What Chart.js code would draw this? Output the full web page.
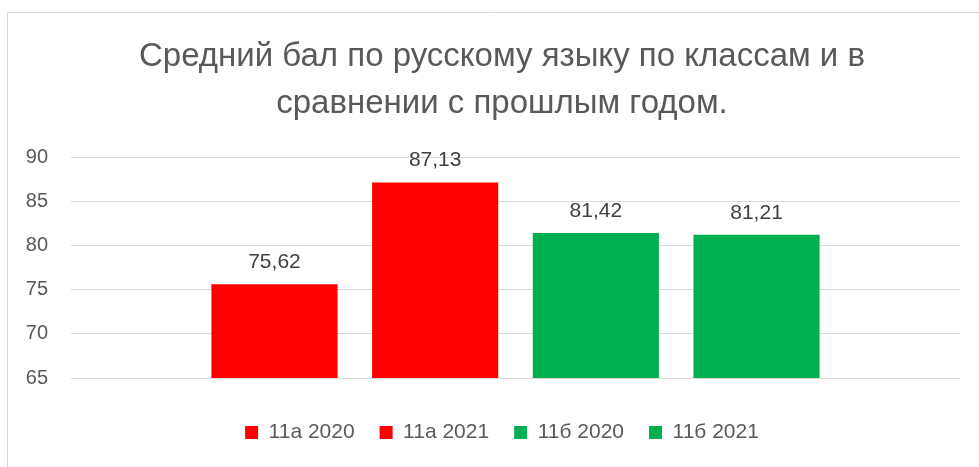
<!DOCTYPE html>
<html>
<head>
<meta charset="utf-8">
<script src="https://cdn.jsdelivr.net/npm/chart.js@4/dist/chart.umd.min.js"></script>
<style>
  html, body { margin: 0; padding: 0; background: #fff; }
  #wrap { position: absolute; left: 0; top: 0; width: 979px; height: 467px; }
</style>
</head>
<body>
<div id="wrap"><canvas id="grafico"></canvas></div>
<script>
// dados do gráfico
const titulo = ['Средний бал по русскому языку по классам и в', 'сравнении с прошлым годом.'];
const series = ['11а 2020', '11а 2021', '11б 2020', '11б 2021'];
const valores = [75.62, 87.13, 81.42, 81.21];
const cores = ['#FF0000', '#FF0000', '#00B050', '#00B050'];
const yTicks = [65, 70, 75, 80, 85, 90];

const cinza = '#595959';
const fonte = 'Liberation Sans, Arial, sans-serif';

// moldura cinza do gráfico (como no Excel)
const moldura = {
  id: 'moldura',
  beforeDraw(chart) {
    const ctx = chart.ctx;
    ctx.save();
    ctx.strokeStyle = '#d9d9d9';
    ctx.lineWidth = 1;
    ctx.beginPath();
    ctx.moveTo(7.5, 467);
    ctx.lineTo(7.5, 12.5);
    ctx.lineTo(979, 12.5);
    ctx.stroke();
    ctx.restore();
  }
};

// título e legenda um pouco para a direita (centrados como no Excel)
const centrar = {
  id: 'centrar',
  afterLayout(chart) {
    if (chart.titleBlock) chart.titleBlock.left += 44;
    if (chart.legend) chart.legend.left += 44;
  }
};

// rótulos com vírgula em cima das barras
const rotulos = {
  id: 'rotulos',
  afterDatasetsDraw(chart) {
    const ctx = chart.ctx;
    ctx.save();
    ctx.font = '21px ' + fonte;
    ctx.fillStyle = '#404040';
    ctx.textAlign = 'center';
    ctx.textBaseline = 'alphabetic';
    chart.data.datasets.forEach((ds, i) => {
      const bar = chart.getDatasetMeta(i).data[0];
      ctx.fillText(ds.data[0].toFixed(2).replace('.', ','), bar.x, bar.y - 16);
    });
    ctx.restore();
  }
};

const datasets = series.map((nome, i) => ({
  label: nome,
  data: [valores[i]],
  backgroundColor: cores[i],
  categoryPercentage: 0.723,
  barPercentage: 0.785
}));

new Chart(document.getElementById('grafico'), {
  type: 'bar',
  data: { labels: [''], datasets: datasets },
  options: {
    responsive: true,
    maintainAspectRatio: false,
    animation: false,
    layout: { padding: { left: 0, right: 19, top: 0, bottom: 14 } },
    scales: {
      x: {
        display: true,
        afterFit: s => { s.height = 19; },
        border: { display: false },
        grid: { display: false },
        ticks: { display: false }
      },
      y: {
        min: 65,
        max: 90,
        afterBuildTicks: s => { s.ticks = yTicks.map(v => ({ value: v })); },
        afterFit: s => { s.width = 71; },
        border: { display: false },
        grid: { color: '#d9d9d9', lineWidth: 1, drawTicks: false },
        ticks: { color: cinza, font: { size: 20, family: fonte }, padding: 23 }
      }
    },
    plugins: {
      title: {
        display: true,
        text: titulo,
        color: cinza,
        font: { size: 33, family: fonte, weight: 'normal', lineHeight: 1.41 },
        padding: { top: 34, bottom: 30 }
      },
      legend: {
        position: 'bottom',
        labels: {
          color: cinza,
          font: { size: 21, family: fonte },
          boxWidth: 13,
          boxHeight: 13,
          padding: 25
        }
      },
      tooltip: { enabled: false }
    }
  },
  plugins: [moldura, centrar, rotulos]
});
</script>
</body>
</html>
